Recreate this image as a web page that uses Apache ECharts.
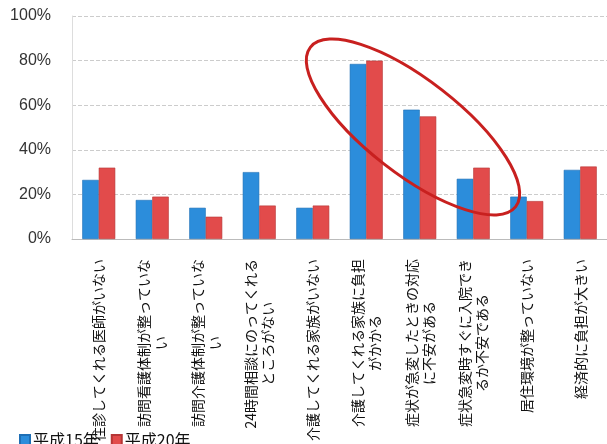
<!DOCTYPE html>
<html><head><meta charset="utf-8">
<script src="https://cdn.jsdelivr.net/npm/echarts@6/dist/echarts.min.js"></script>
<style>html,body{margin:0;padding:0;background:#fff}#c{width:607px;height:444px}</style>
</head><body><div id="c"></div>
<script>
const categories = [
  '往診してくれる医師がいない',
  '訪問看護体制が整っていな\nい',
  '訪問介護体制が整っていな\nい',
  '24時間相談にのってくれる\nところがない',
  '介護してくれる家族がいない',
  '介護してくれる家族に負担\nがかかる',
  '症状が急変したときの対応\nに不安がある',
  '症状急変時すぐに入院でき\nるか不安である',
  '居住環境が整っていない',
  '経済的に負担が大きい'
];
const seriesNames = ['平成15年', '平成20年'];
const h15 = [26.5, 17.5, 14, 30, 14, 78.5, 58, 27, 19, 31];
const h20 = [32, 19, 10, 15, 15, 80, 55, 32, 17, 32.5];
const yTicks = [0, 20, 40, 60, 80, 100];

const chart = echarts.init(document.getElementById('c'));
chart.setOption({
  backgroundColor: '#fff',
  animation: false,
  textStyle: { fontFamily: '"Noto Sans CJK JP", sans-serif' },
  grid: { left: 72, right: -6, top: 16, bottom: 204, containLabel: false },
  legend: {
    data: seriesNames,
    left: 14, top: 427,
    itemWidth: 10, itemHeight: 10, itemGap: 12,
    icon: 'rect',
    textStyle: { fontSize: 16, color: '#111', padding: [0, 0, 0, -2] }
  },
  xAxis: {
    type: 'category',
    data: categories,
    axisLine: { lineStyle: { color: '#bbb' } },
    axisTick: { show: false },
    axisLabel: {
      interval: 0, rotate: 90, margin: 20,
      color: '#111', fontSize: 14, lineHeight: 17,
      formatter: function (v) {
        return v.split('\n').map(function (s) { return '{c|' + s + '}'; }).join('\n');
      },
      rich: { c: { align: 'center', fontSize: 14, lineHeight: 17, color: '#111' } }
    }
  },
  yAxis: {
    type: 'value', min: 0, max: 100, interval: 20,
    axisLine: { show: true, lineStyle: { color: '#ddd' } },
    axisTick: { show: false },
    axisLabel: {
      margin: 21, fontSize: 16, color: '#333',
      fontFamily: '"Liberation Sans", Arial, sans-serif',
      formatter: function (v) { return yTicks.indexOf(v) >= 0 ? v + '%' : ''; }
    },
    splitLine: { lineStyle: { color: '#ccc', type: [4, 2] } }
  },
  series: [
    { name: seriesNames[0], type: 'bar', data: h15, barWidth: 16.5, barGap: '0%',
      itemStyle: { color: '#2c8ddb', borderColor: '#1f6fb5', borderWidth: 0.6 } },
    { name: seriesNames[1], type: 'bar', data: h20, barWidth: 16.5,
      itemStyle: { color: '#e24b4b', borderColor: '#b63636', borderWidth: 0.6 } }
  ],
  graphic: [{
    type: 'ellipse', x: 413, y: 127, rotation: -0.66, z: 100,
    shape: { cx: 0, cy: 0, rx: 130, ry: 47 },
    style: { fill: 'none', stroke: '#c8201f', lineWidth: 3 }
  }]
});
</script></body></html>
